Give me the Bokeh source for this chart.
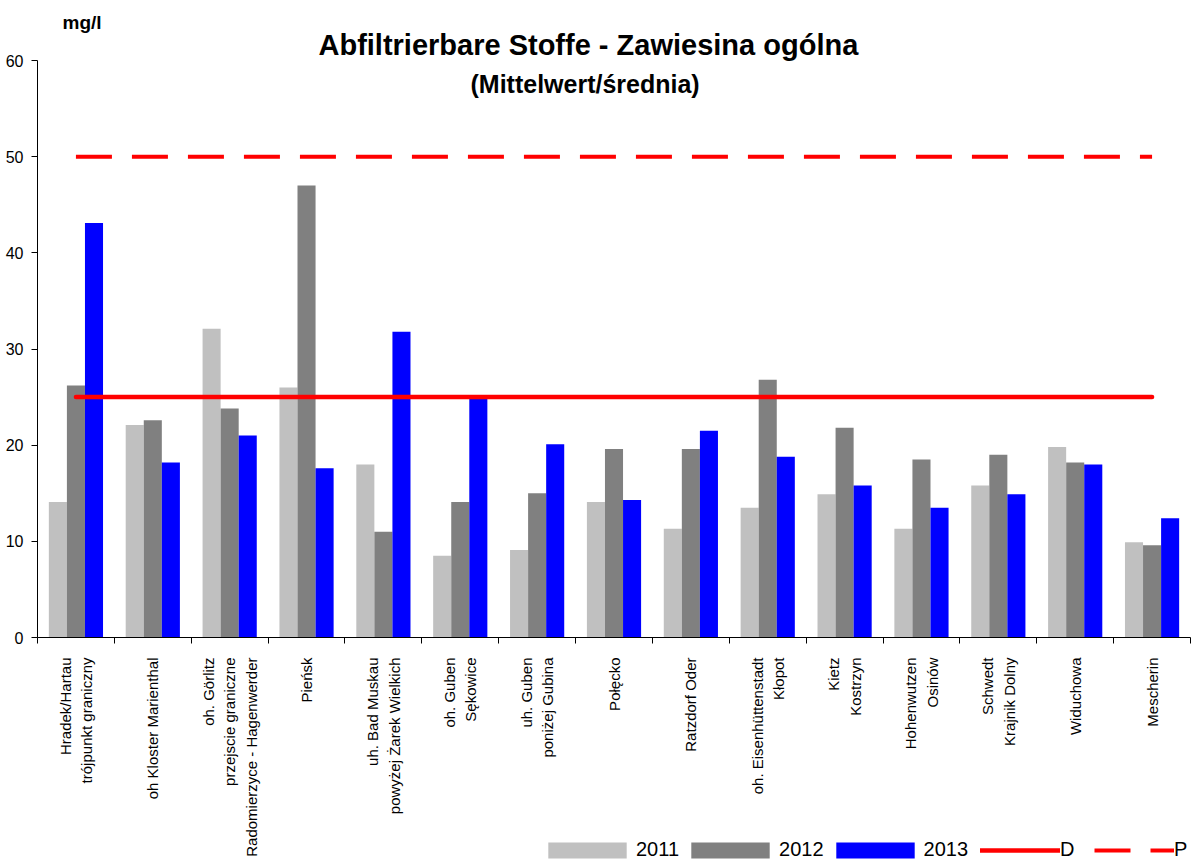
import math
from bokeh.plotting import figure
from bokeh.models import Range1d, FixedTicker, Legend, LegendItem, Label
from bokeh.embed import file_html
from bokeh.resources import INLINE

categories = [
    "Hradek/Hartau\ntrójpunkt graniczny",
    "oh Kloster Marienthal",
    "oh. Görlitz\nprzejscie graniczne\nRadomierzyce - Hagenwerder",
    "Pieńsk",
    "uh. Bad Muskau\npowyżej Żarek Wielkich",
    "oh. Guben\nSękowice",
    "uh. Guben\nponiżej Gubina",
    "Połęcko",
    "Ratzdorf Oder",
    "oh. Eisenhüttenstadt\nKłopot",
    "Kietz\nKostrzyn",
    "Hohenwutzen\nOsinów",
    "Schwedt\nKrajnik Dolny",
    "Widuchowa",
    "Mescherin",
]
values_2011 = [14.1, 22.1, 32.1, 26.0, 18.0, 8.5, 9.1, 14.1, 11.3, 13.5, 14.9, 11.3, 15.8, 19.8, 9.9]
values_2012 = [26.2, 22.6, 23.8, 47.0, 11.0, 14.1, 15.0, 19.6, 19.6, 26.8, 21.8, 18.5, 19.0, 18.2, 9.6]
values_2013 = [43.1, 18.2, 21.0, 17.6, 31.8, 24.8, 20.1, 14.3, 21.5, 18.8, 15.8, 13.5, 14.9, 18.0, 12.4]
series_names = ["2011", "2012", "2013"]
limit_names = ["D", "P"]
limit_d = 25
limit_p = 50
y_ticks = [0, 10, 20, 30, 40, 50, 60]
y_max = 60

title_text = "Abfiltrierbare Stoffe - Zawiesina ogólna"
subtitle_text = "(Mittelwert/średnia)"
unit_text = "mg/l"

FONT = "Liberation Sans"
W, H = 1194, 863
# plot area geometry (pixels): frame covers the whole canvas, axes are placed inside
AX_LEFT, AX_RIGHT, AX_TOP, AX_BOTTOM = 37, 1190, 60, 637
n = len(categories)
px_per_cat = (AX_RIGHT - AX_LEFT) / n
px_per_unit = (AX_BOTTOM - AX_TOP) / y_max
x_lo = -AX_LEFT / px_per_cat
x_hi = n + (W - AX_RIGHT) / px_per_cat
y_hi = y_max + AX_TOP / px_per_unit
y_lo = -(H - AX_BOTTOM) / px_per_unit

centers = [i + 0.5 for i in range(n)]
bw = 0.235

p = figure(width=W, height=H, x_range=Range1d(x_lo, x_hi), y_range=Range1d(y_lo, y_hi),
           output_backend="svg", toolbar_location=None, title=None, min_border=0)
p.outline_line_color = None
p.xgrid.visible = False
p.ygrid.visible = False
p.background_fill_color = "white"
p.border_fill_color = "white"

r11 = p.vbar(x=[c - bw for c in centers], top=values_2011, width=bw, bottom=0,
             fill_color="#C0C0C0", line_color=None)
r12 = p.vbar(x=centers, top=values_2012, width=bw, bottom=0,
             fill_color="#808080", line_color=None)
r13 = p.vbar(x=[c + bw for c in centers], top=values_2013, width=bw, bottom=0,
             fill_color="#0000FF", line_color=None)
rD = p.line(x=[centers[0], centers[-1]], y=[limit_d, limit_d], line_color="#FF0000",
            line_width=4.5, line_cap="round")
rP = p.line(x=[centers[0], centers[-1]], y=[limit_p, limit_p], line_color="#FF0000",
            line_width=4, line_dash="36 20")

# x axis
xa = p.xaxis[0]
xa.fixed_location = 0
xa.bounds = (0, n)
xa.ticker = FixedTicker(ticks=centers, minor_ticks=list(range(n + 1)))
xa.major_label_overrides = {c: lab for c, lab in zip(centers, categories)}
xa.major_label_orientation = math.pi / 2
xa.major_tick_line_color = None
xa.major_tick_out = 0
xa.major_tick_in = 0
xa.minor_tick_out = 6
xa.minor_tick_in = 0
xa.minor_tick_line_color = "black"
xa.axis_line_color = "black"
xa.major_label_standoff = 14
xa.major_label_text_font = FONT
xa.major_label_text_font_size = "15px"
xa.major_label_text_color = "black"
xa.major_label_text_line_height = 1.26

# y axis
ya = p.yaxis[0]
ya.fixed_location = 0
ya.bounds = (0, y_max)
ya.ticker = FixedTicker(ticks=y_ticks, minor_ticks=[])
ya.major_tick_out = 6
ya.major_tick_in = 0
ya.minor_tick_out = 0
ya.minor_tick_in = 0
ya.major_tick_line_color = "black"
ya.axis_line_color = "black"
ya.major_label_standoff = 8
ya.major_label_text_font = FONT
ya.major_label_text_font_size = "16px"
ya.major_label_text_color = "black"

# titles
p.add_layout(Label(x=318, x_units="screen", y=y_max, y_units="data", y_offset=16,
                   text=title_text, text_font=FONT, text_font_style="bold", text_color="black",
                   text_font_size="29px", text_align="left", text_baseline="alphabetic"))
p.add_layout(Label(x=470, x_units="screen", y=y_max, y_units="data", y_offset=-23,
                   text=subtitle_text, text_font=FONT, text_font_style="bold", text_color="black",
                   text_font_size="25px", text_align="left", text_baseline="alphabetic"))
p.add_layout(Label(x=62, x_units="screen", y=y_max, y_units="data", y_offset=38,
                   text=unit_text, text_font=FONT, text_font_style="bold", text_color="black",
                   text_font_size="19px", text_align="left", text_baseline="alphabetic"))

common = dict(orientation="horizontal", padding=0, margin=0, border_line_color=None,
              background_fill_alpha=0, label_text_font=FONT, label_text_font_size="20px",
              label_height=16, label_text_color="black", label_standoff=0)
legend_bars = Legend(items=[LegendItem(label=series_names[0], renderers=[r11]),
                            LegendItem(label=series_names[1], renderers=[r12]),
                            LegendItem(label=series_names[2], renderers=[r13])],
                     location=(538, 2), glyph_width=98, glyph_height=20,
                     spacing=2, **common)
legend_lines = Legend(items=[LegendItem(label=limit_names[0], renderers=[rD]),
                             LegendItem(label=limit_names[1], renderers=[rP])],
                      location=(980, 2), glyph_width=80, glyph_height=20,
                      spacing=14, **common)
p.add_layout(legend_bars)
p.add_layout(legend_lines)

open("out.html", "w").write(file_html(p, INLINE))
